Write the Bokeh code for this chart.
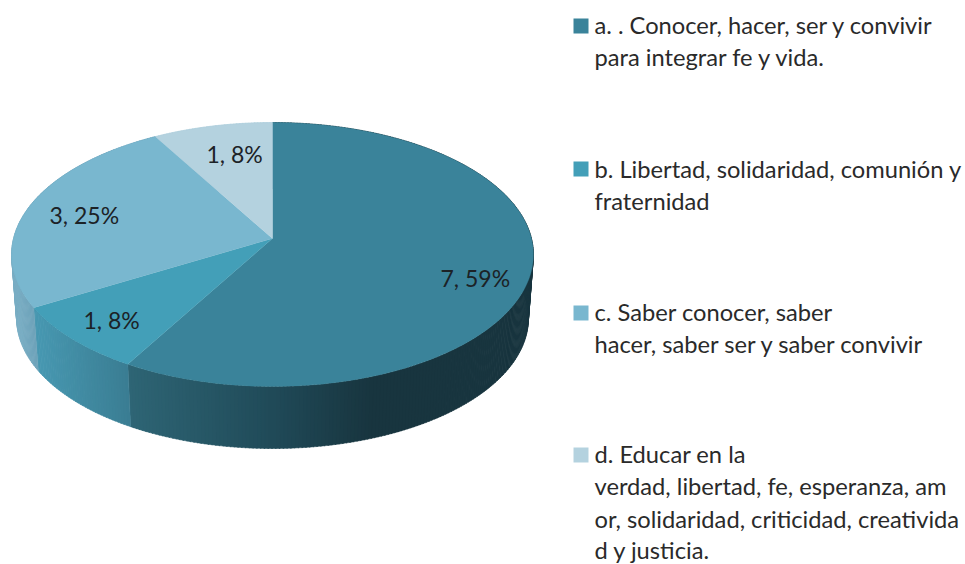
import numpy as np
from bokeh.plotting import figure
from bokeh.core.properties import value
from bokeh.embed import file_html
from bokeh.resources import INLINE
from bokeh.models import Range1d

# Data
categories = ["a", "b", "c", "d"]
counts = [7, 1, 3, 1]
data_labels = ["7, 59%", "1, 8%", "3, 25%", "1, 8%"]
top_colors = ["#3A839A", "#439FB8", "#79B7CF", "#B4D2DF"]
legend_lines = [
    ["a. . Conocer, hacer, ser y convivir", "para integrar fe y vida."],
    ["b. Libertad, solidaridad, comunión y", "fraternidad"],
    ["c. Saber conocer, saber", "hacer, saber ser y saber convivir"],
    ["d. Educar en la", "verdad, libertad, fe, esperanza,  am",
     "or, solidaridad, criticidad, creativida", "d y justicia."],
]

# Layout (page pixels): perspective view of the disc
CX = 272
CP = -0.1212
TOP = dict(k=259, a=101.2, b=238)
BOT = dict(k=254, a=91.5, b=302.2)
label_pos = [(440, 286), (83, 328), (49, 223), (206, 162)]
legend_baselines = [[33, 65], [177, 209], [320, 352], [462, 494, 527, 558]]
legend_squares = [18, 161, 305, 447]
TEXT_SHIFT = -9
FONT = "Lato"
FS = "23.7px"

side_stops = {
    "a": ([127, 272, 370], ["#2E6575", "#204A58", "#18353F"]),
    "b": ([38, 127], ["#4797B0", "#3A7D92"]),
    "c": ([14, 38], ["#7AAEC4", "#6A9FB6"]),
    "d": ([14, 38], ["#B4D2DF", "#B4D2DF"]),
}

def rgb(h):
    return [int(h[i:i + 2], 16) for i in (1, 3, 5)]

def side_color(cat, x):
    xs, cs = side_stops[cat]
    arr = np.array([rgb(c) for c in cs], float)
    v = [np.interp(x, xs, arr[:, k]) for k in range(3)]
    return "#%02x%02x%02x" % tuple(int(round(t)) for t in v)

def rim(e, deg):
    t = np.radians(deg)
    u, v = np.sin(t), np.cos(t) * -1
    w = 1 + CP * v
    return CX + e["k"] * u / w, (e["a"] * v + e["b"]) / w

p = figure(width=965, height=564, output_backend="svg", toolbar_location=None,
           x_range=Range1d(0, 965), y_range=Range1d(564, 0), min_border=0)
p.axis.visible = False
p.grid.visible = False
p.outline_line_color = None

edges = np.cumsum([0] + counts) / sum(counts) * 360.0

# Side wall, drawn as thin strips
sx, sy, sc = [], [], []
for i, cat in enumerate(categories):
    a0, a1 = edges[i], edges[i + 1]
    for d0 in np.arange(a0, a1, 0.75):
        d1 = min(d0 + 0.95, a1)
        x0, y0 = rim(TOP, d0)
        x1, y1 = rim(TOP, d1)
        x2, y2 = rim(BOT, d1)
        x3, y3 = rim(BOT, d0)
        sx.append([x0, x1, x2, x3])
        sy.append([y0, y1, y2, y3])
        sc.append(side_color(cat, (x0 + x1) / 2))
p.patches(sx, sy, fill_color=sc, line_color=sc, line_width=0.5)

# Top surface
tx, ty = [], []
for i in range(len(categories)):
    deg = np.linspace(edges[i], edges[i + 1], 200)
    x, y = rim(TOP, deg)
    tx.append([CX, *x])
    ty.append([TOP["b"], *y])
p.patches(tx, ty, fill_color=top_colors, line_color=top_colors, line_width=0.3)

# Data labels
p.text([q[0] for q in label_pos], [q[1] + TEXT_SHIFT for q in label_pos], text=data_labels,
       text_font=value(FONT), text_font_size="23px", text_color="#1c2226",
       text_align="left", text_baseline="alphabetic")

# Legend
p.quad(left=[573] * 4, right=[588] * 4, top=legend_squares,
       bottom=[s + 15 for s in legend_squares], fill_color=top_colors, line_color=None)
lx, ly, lt = [], [], []
for lines, bases in zip(legend_lines, legend_baselines):
    for t, b in zip(lines, bases):
        lx.append(594); ly.append(b + TEXT_SHIFT); lt.append(t)
p.text(lx, ly, text=lt, text_font=value(FONT), text_font_size=FS, text_color="#2a2a2a",
       text_align="left", text_baseline="alphabetic")

open("out.html", "w").write(file_html(p, INLINE))
